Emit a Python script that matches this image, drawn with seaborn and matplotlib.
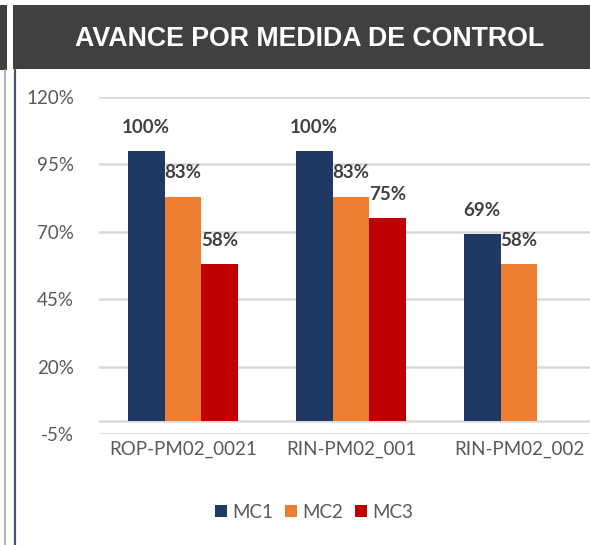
import matplotlib
matplotlib.use("Agg")
import matplotlib.pyplot as plt
import seaborn as sns
import pandas as pd
import numpy as np
from matplotlib.patches import Rectangle
from matplotlib.lines import Line2D

categories = ["ROP-PM02_0021", "RIN-PM02_001", "RIN-PM02_002"]
series = ["MC1", "MC2", "MC3"]
mc1 = [100, 100, 69]
mc2 = [83, 83, 58]
mc3 = [58, 75, None]
yticks = [-5, 20, 45, 70, 95, 120]
title = "AVANCE POR MEDIDA DE CONTROL"
colors = ["#1F3864", "#ED7D31", "#C00000"]

rows = []
for s, vals in zip(series, [mc1, mc2, mc3]):
    for c, v in zip(categories, vals):
        if v is not None:
            rows.append({"cat": c, "serie": s, "val": v})
df = pd.DataFrame(rows)

sns.set_theme(style="white")
plt.rcParams["font.family"] = ["Lato", "DejaVu Sans"]

W, H = 590, 545
fig = plt.figure(figsize=(W / 100, H / 100), dpi=100)

# axes geometry in pixels
ax_left, ax_right = 99, 603
ax_top, ax_bottom = 97, 434
ax = fig.add_axes([ax_left / W, 1 - ax_bottom / H, (ax_right - ax_left) / W, (ax_bottom - ax_top) / H])

sns.barplot(data=df, x="cat", y="val", hue="serie", order=categories, hue_order=series,
            palette=colors, width=0.66, saturation=1, ax=ax, legend=True, edgecolor="none")

ax.set_ylim(-5, 120)
ax.set_xlim(-0.5, 2.5)
ax.set_yticks(yticks)
ax.set_yticklabels([f"{t}%" for t in yticks], color="#595959", fontsize=13.5)
ax.set_xticks(range(len(categories)))
ax.set_xticklabels(categories, color="#595959", fontsize=13.5)
ax.tick_params(axis="y", length=0, pad=18)
ax.tick_params(axis="x", length=0, pad=5)
ax.set_xlabel("")
ax.set_ylabel("")
for sp in ax.spines.values():
    sp.set_visible(False)
ax.set_axisbelow(True)
ax.yaxis.grid(True, color="#D9D9D9", linewidth=1.8)
ax.axhline(0, color="#D9D9D9", linewidth=1.8, zorder=0.5)
ax.patch.set_alpha(0)

for cont in ax.containers:
    for bar in cont:
        h = bar.get_height()
        if np.isnan(h) or h == 0:
            continue
        ax.annotate(f"{h:.0f}%", (bar.get_x() + bar.get_width() / 2, h),
                    xytext=(0, 11), textcoords="offset points", ha="center", va="bottom",
                    fontsize=13.5, fontweight="bold", color="#404040")

leg = ax.legend(loc="center", bbox_to_anchor=(314 / W, 1 - 512 / H), bbox_transform=fig.transFigure,
                ncol=3, frameon=False, fontsize=13.5, handlelength=0.65, handleheight=0.65,
                handletextpad=0.3, columnspacing=0.6)
for t in leg.get_texts():
    t.set_color("#595959")

# banner
fig.add_artist(Rectangle((13 / W, 1 - 69 / H), (W - 13) / W, 64 / H, transform=fig.transFigure,
                         facecolor="#404040", edgecolor="none"))
fig.add_artist(Rectangle((0, 1 - 70 / H), 7 / W, 65 / H, transform=fig.transFigure,
                         facecolor="#404040", edgecolor="none"))
fig.text(310 / W, 1 - 39 / H, title, ha="center", va="center", color="white",
         fontsize=19.3, fontweight="bold", family=["Liberation Sans", "DejaVu Sans"])

# left border lines
fig.add_artist(Line2D([4.8 / W, 4.8 / W], [0, 1 - 70 / H], transform=fig.transFigure,
                      color="#A6B0C0", linewidth=1.3))
fig.add_artist(Line2D([14.5 / W, 14.5 / W], [0, 1 - 70 / H], transform=fig.transFigure,
                      color="#44546A", linewidth=1.6))

fig.savefig("out.png", dpi=100)
